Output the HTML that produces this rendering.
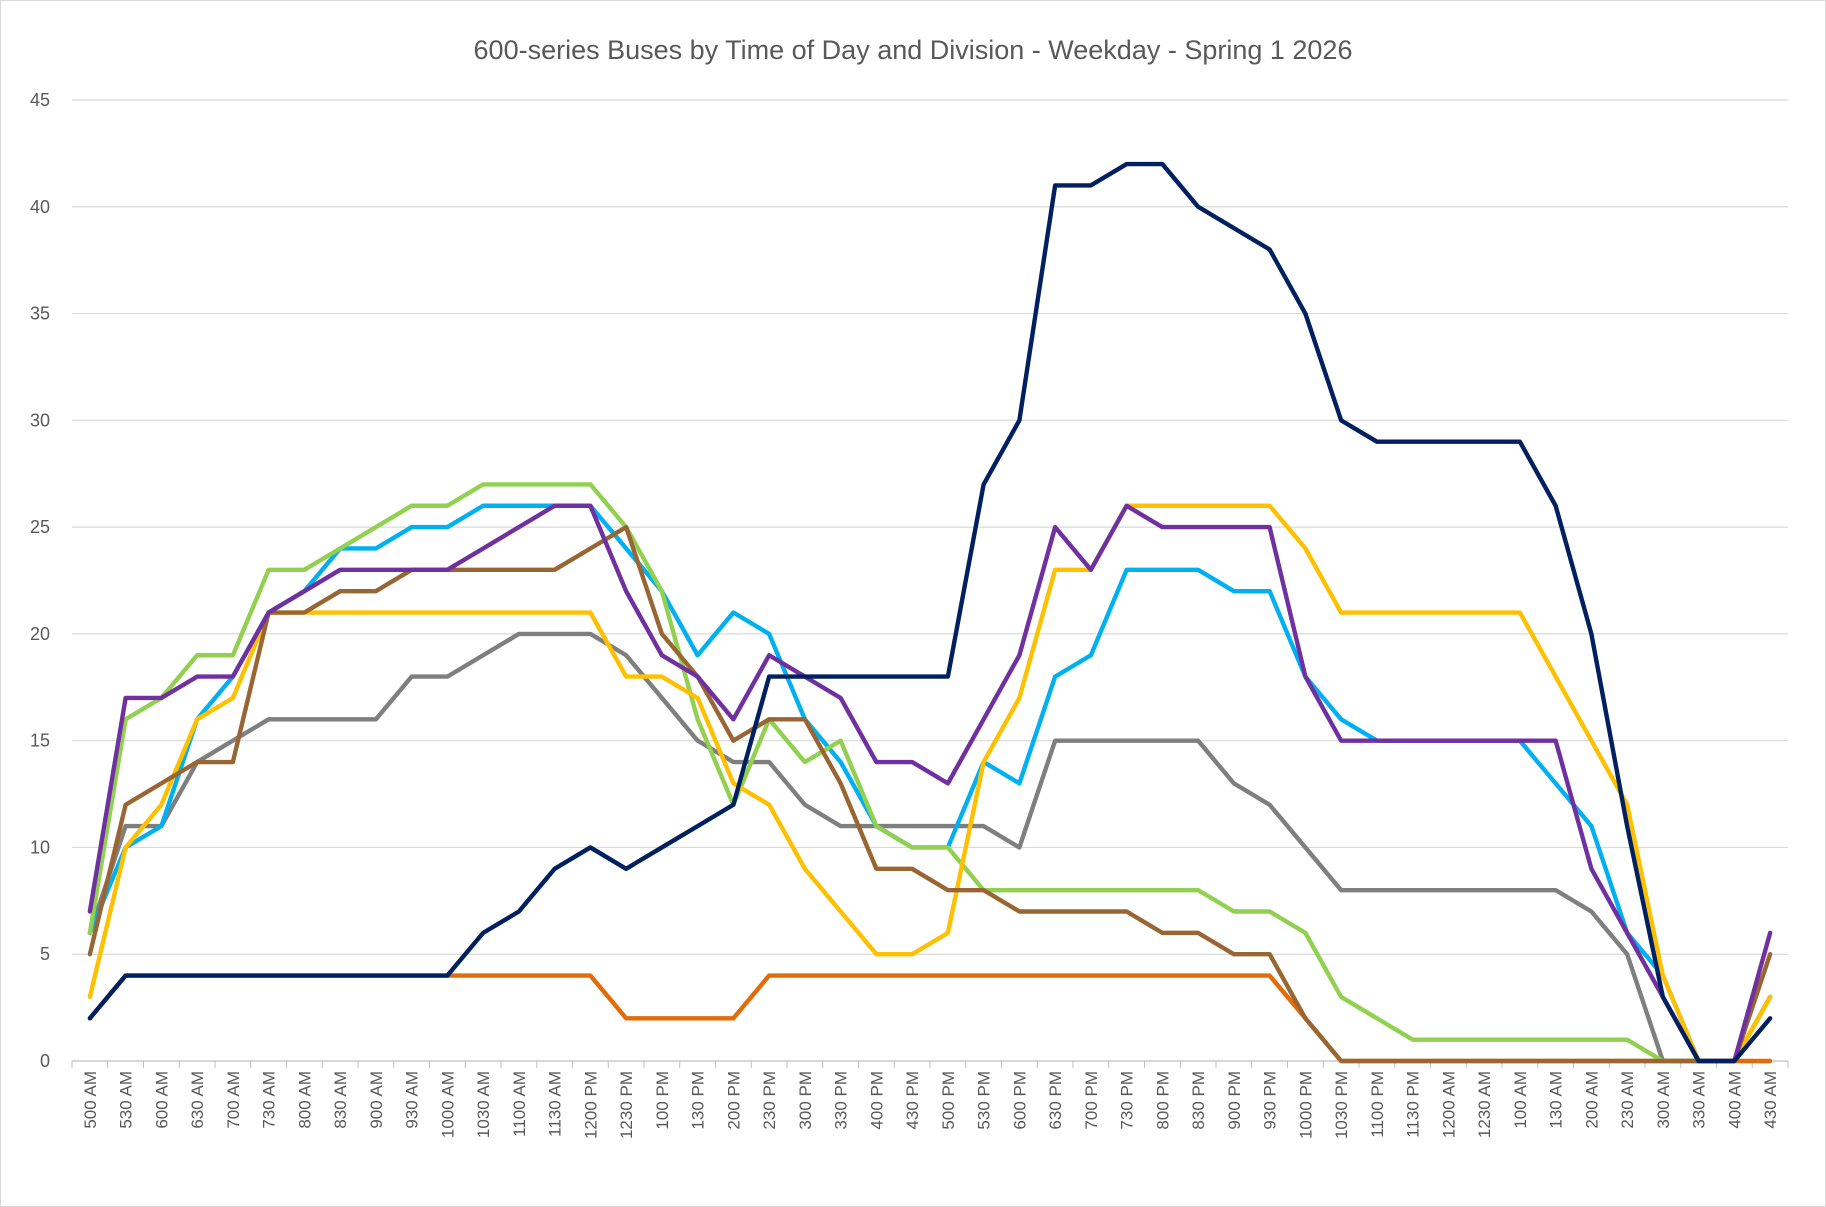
<!DOCTYPE html>
<html><head><meta charset="utf-8"><style>
html,body{margin:0;padding:0;background:#fff}
svg{display:block;font-family:"Liberation Sans",Arial,sans-serif}
</style></head><body>
<svg id="chart" width="1826" height="1207" viewBox="0 0 1826 1207">
<rect x="0.5" y="0.5" width="1825" height="1206" fill="#fff" stroke="#d9d9d9"/>
<text x="913" y="59" text-anchor="middle" font-size="27" fill="#595959">600-series Buses by Time of Day and Division - Weekday - Spring 1 2026</text>
<g id="grid"></g><g id="yt"></g><g id="xt"></g><g id="series"></g>
</svg>
<script>
const categories=["500 AM","530 AM","600 AM","630 AM","700 AM","730 AM","800 AM","830 AM","900 AM","930 AM","1000 AM","1030 AM","1100 AM","1130 AM","1200 PM","1230 PM","100 PM","130 PM","200 PM","230 PM","300 PM","330 PM","400 PM","430 PM","500 PM","530 PM","600 PM","630 PM","700 PM","730 PM","800 PM","830 PM","900 PM","930 PM","1000 PM","1030 PM","1100 PM","1130 PM","1200 AM","1230 AM","100 AM","130 AM","200 AM","230 AM","300 AM","330 AM","400 AM","430 AM"];
const yTicks=[0,5,10,15,20,25,30,35,40,45];
const grayS=[6,11,11,14,15,16,16,16,16,18,18,19,20,20,20,19,17,15,14,14,12,11,11,11,11,11,10,15,15,15,15,15,13,12,10,8,8,8,8,8,8,8,7,5,0,0,0,3];
const orangeS=[2,4,4,4,4,4,4,4,4,4,4,4,4,4,4,2,2,2,2,4,4,4,4,4,4,4,4,4,4,4,4,4,4,4,2,0,0,0,0,0,0,0,0,0,0,0,0,0];
const cyanS=[6,10,11,16,18,21,22,24,24,25,25,26,26,26,26,24,22,19,21,20,16,14,11,10,10,14,13,18,19,23,23,23,22,22,18,16,15,15,15,15,15,13,11,6,4,0,0,3];
const greenS=[6,16,17,19,19,23,23,24,25,26,26,27,27,27,27,25,22,16,12,16,14,15,11,10,10,8,8,8,8,8,8,8,7,7,6,3,2,1,1,1,1,1,1,1,0,0,0,3];
const yellowS=[3,10,12,16,17,21,21,21,21,21,21,21,21,21,21,18,18,17,13,12,9,7,5,5,6,14,17,23,23,26,26,26,26,26,24,21,21,21,21,21,21,18,15,12,4,0,0,3];
const brownS=[5,12,13,14,14,21,21,22,22,23,23,23,23,23,24,25,20,18,15,16,16,13,9,9,8,8,7,7,7,7,6,6,5,5,2,0,0,0,0,0,0,0,0,0,0,0,0,5];
const purpleS=[7,17,17,18,18,21,22,23,23,23,23,24,25,26,26,22,19,18,16,19,18,17,14,14,13,16,19,25,23,26,25,25,25,25,18,15,15,15,15,15,15,15,9,6,3,0,0,6];
const navyS=[2,4,4,4,4,4,4,4,4,4,4,6,7,9,10,9,10,11,12,18,18,18,18,18,18,27,30,41,41,42,42,40,39,38,35,30,29,29,29,29,29,26,20,11,3,0,0,2];
const NS="http://www.w3.org/2000/svg";
const L=72,R=1788,T=100,B=1061,YMAX=45;
const cw=(R-L)/categories.length;
const xs=i=>L+cw*(i+0.5);
const ys=v=>B-(v/YMAX)*(B-T);
function mk(tag,a,p){const e=document.createElementNS(NS,tag);for(const k in a)e.setAttribute(k,a[k]);p.appendChild(e);return e;}
const grid=document.getElementById('grid'),yt=document.getElementById('yt'),xt=document.getElementById('xt'),sg=document.getElementById('series');
yTicks.forEach(v=>{
 const l=mk('line',{x1:L,x2:R,y1:ys(v),y2:ys(v),stroke:v===0?'#bfbfbf':'#d9d9d9','stroke-width':1.2},grid);
 
 
 const t=mk('text',{x:50,y:ys(v)+6,'text-anchor':'end','font-size':18,fill:'#595959'},yt);
 t.textContent=v;
 
 
});
categories.forEach((c,i)=>{
 const tk=mk('line',{x1:L+cw*i,x2:L+cw*i,y1:B,y2:B+7,stroke:'#bfbfbf','stroke-width':1},grid);
 
 
 const t=mk('text',{x:0,y:0,'text-anchor':'end','font-size':17,fill:'#595959',transform:`translate(${xs(i)+6},${B+10}) rotate(-90)`},xt);
 t.textContent=c;
 
 
});
mk('line',{x1:R,x2:R,y1:B,y2:B+7,stroke:'#bfbfbf'},grid);
const seriesList=[["gray",grayS,"#7f7f7f"],["orange",orangeS,"#e36c0a"],["cyan",cyanS,"#00b0f0"],["green",greenS,"#92d050"],["yellow",yellowS,"#ffc000"],["brown",brownS,"#996633"],["purple",purpleS,"#7030a0"],["navy",navyS,"#002060"]];
seriesList.forEach(([n,d,col])=>{
 const p=mk('polyline',{points:d.map((v,i)=>xs(i)+','+ys(v)).join(' '),fill:'none',stroke:col,'stroke-width':4.4,'stroke-linejoin':'round','stroke-linecap':'round'},sg);
 
 
});
</script>
</body></html>
